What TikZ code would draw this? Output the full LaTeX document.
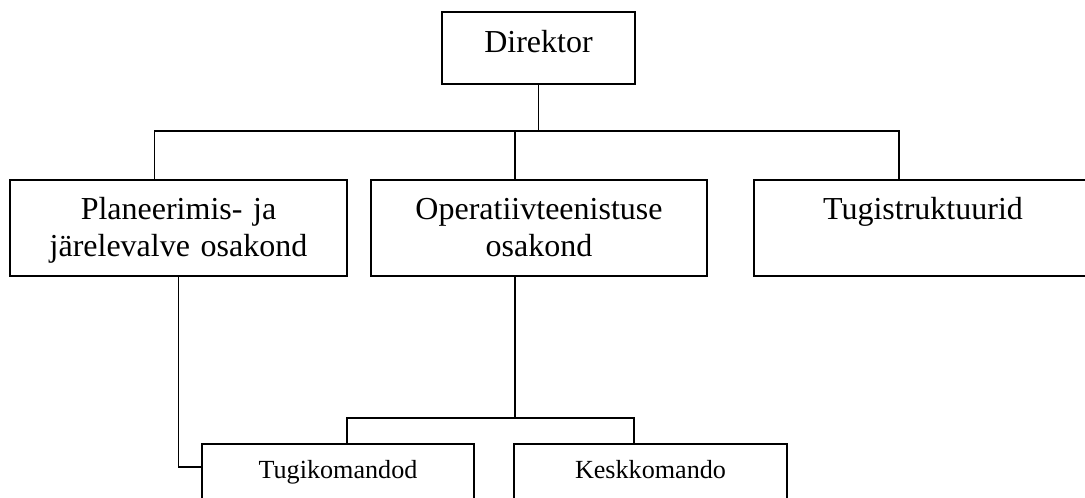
\documentclass[tikz,border=0pt]{standalone}
\usepackage{fontspec}
\setmainfont{Liberation Serif}
\usepackage{tikz}

\tikzset{
  unit/.style = {draw, line width=0.6pt, inner sep=0pt, anchor=north, align=center,
                 font=\fontsize{12}{13.875}\selectfont},
  dept/.style = {unit, text height=15pt, text depth=21pt},
  team/.style = {unit, font=\fontsize{9.8}{11.8}\selectfont, text height=13.125pt, text depth=15pt},
  link/.style = {line width=0.6pt}
}

\begin{document}
\begin{tikzpicture}[x=0.375pt, y=-0.375pt]
	\useasboundingbox (0,0) rectangle (1085,498);
	\clip (0,0) rectangle (1085,498);
	%\draw [help lines, step=100] (0,0) grid (1085,498);
	\node [unit, text width=72.375pt, text height=15.375pt, text depth=11.625pt] (dir) at (538.5,11) {Direktor};
	\node [dept, text width=126.375pt] (plan) at (178.5,179) {Planeerimis- ja\\järelevalve osakond};
	\node [dept, text width=126pt] (oper) at (539,179) {Operatiivteenistuse\\osakond};
	\node [dept, text width=126.75pt] (tugi) at (923,179) {Tugistruktuurid};
	\node [team, text width=102pt] (tkom) at (338,443) {Tugikomandod};
	\node [team, text width=102.375pt] (kkom) at (650.5,443) {Keskkomando};
	\coordinate (bus) at (539,131);
	\coordinate (lowbus) at (515,418);
	\draw [link] (dir.south) -- (dir.south |- bus);
	\draw [link] ([xshift=-9pt]plan.north) |- (bus) -| ([xshift=-9pt]tugi.north);
	\draw [link] ([xshift=-9pt]oper.north) -- ([xshift=-9pt]oper.north |- bus);
	\draw [link] ([xshift=-9pt]oper.south) -- (lowbus);
	\draw [link] ([xshift=3.375pt]tkom.north) |- (lowbus) -| ([xshift=-6.1875pt]kkom.north);
	\draw [link] (plan.south) |- ([yshift=-9pt]tkom.north west);
\end{tikzpicture}
\end{document}
